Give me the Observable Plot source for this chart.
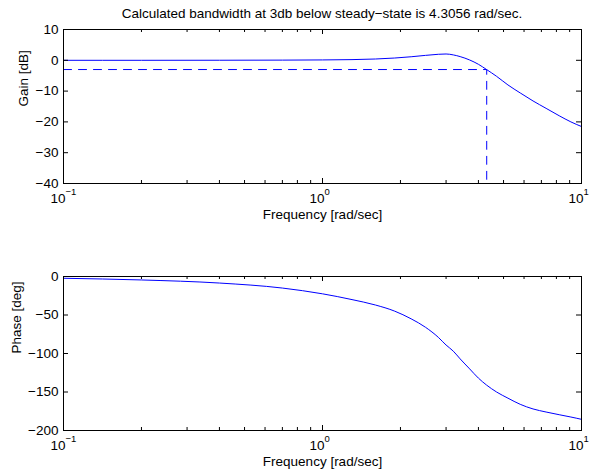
<!DOCTYPE html>
<html>
<head>
<meta charset="utf-8">
<script src="https://cdn.jsdelivr.net/npm/d3@7"></script>
<script src="https://cdn.jsdelivr.net/npm/@observablehq/plot@0.6"></script>
<style>
  html, body { margin: 0; padding: 0; background: #fff; }
  #fig { position: relative; width: 590px; height: 473px; background: #fff;
         font-family: "Liberation Sans", Arial, Helvetica, sans-serif; color: #000; }
  #title { position: absolute; z-index: 2; left: 63px; width: 518px; top: 6px; text-align: center;
           font-size: 13.5px; line-height: 16px; white-space: nowrap; }
  #top { position: absolute; z-index: 1; left: 0; top: 0; }
  #bottom { position: absolute; z-index: 1; left: 0; top: 240px; }
  svg { display: block; background: transparent; }
</style>
</head>
<body>
<div id="fig">
  <div id="title">Calculated bandwidth at 3db below steady−state is 4.3056 rad/sec.</div>
  <div id="top"></div>
  <div id="bottom"></div>
</div>
<script>
// ---- data ----
const freq = [0.1, 0.2, 0.4, 0.7, 1.0, 1.3, 1.6, 1.9, 2.2, 2.5, 2.8, 3.0, 3.2, 3.4, 3.7, 4.0, 4.3, 4.7, 5.2, 5.8, 6.5, 7.3, 8.2, 9.1, 10];
const gainDb = [0, 0, 0.02, 0.06, 0.12, 0.22, 0.42, 0.74, 1.15, 1.6, 1.95, 2.05, 1.75, 1.2, 0.1, -1.3, -3.0, -5.2, -8.0, -10.6, -13.2, -15.6, -18.0, -20.0, -21.5];
const phaseDeg = [-2.3, -4.5, -8.5, -15, -22.5, -30, -37, -45, -55, -66, -79, -89, -97, -107, -120, -132, -141, -150, -158, -166, -172, -176, -179.5, -182.5, -185.5];
const bandwidth = 4.3056;   // rad/sec
const cutoffDb = -3;        // 3 dB below steady state
const xDomain = [0.1, 10];
const gainDomain = [-40, 10];
const phaseDomain = [-200, 0];
const gainTicks = [10, 0, -10, -20, -30, -40];
const phaseTicks = [0, -50, -100, -150, -200];
const xMajorTicks = [0.1, 1, 10];
const xTickBase = ["10", "10", "10"];
const xTickExponents = ["−1", "0", "1"];
const xMinorTicks = [0.2, 0.3, 0.4, 0.5, 0.6, 0.7, 0.8, 0.9, 2, 3, 4, 5, 6, 7, 8, 9];
const xLabel = "Frequency [rad/sec]";
const gainLabel = "Gain [dB]";
const phaseLabel = "Phase [deg]";

const gainData = freq.map((w, i) => ({w, v: gainDb[i]}));
const phaseData = freq.map((w, i) => ({w, v: phaseDeg[i]}));
// dashed guide: along the -3 dB level to the bandwidth, then down to the axis
const guideData = [
  {w: xDomain[0], v: cutoffDb},
  {w: bandwidth, v: cutoffDb},
  {w: bandwidth, v: gainDomain[0]}
];

const W = 590, ML = 63, MR = 9;
const innerW = W - ML - MR;
const blue = "#0000ff";
const FS = 13.5;
const font = '"Liberation Sans", Arial, Helvetica, sans-serif';
const fmt = d => d < 0 ? "\u2212" + (-d) : String(d);

function boxMarks(yTicks, innerH) {
  return [
    Plot.tickY(yTicks, {y: d => d, insetRight: innerW - 5, stroke: "black", strokeWidth: 1}),
    Plot.tickY(yTicks, {y: d => d, insetLeft: innerW - 5, stroke: "black", strokeWidth: 1}),
    Plot.tickX(xMajorTicks, {x: d => d, insetTop: innerH - 5, stroke: "black", strokeWidth: 1}),
    Plot.tickX(xMajorTicks, {x: d => d, insetBottom: innerH - 5, stroke: "black", strokeWidth: 1}),
    Plot.tickX(xMinorTicks, {x: d => d, insetTop: innerH - 3, stroke: "black", strokeWidth: 1}),
    Plot.tickX(xMinorTicks, {x: d => d, insetBottom: innerH - 3, stroke: "black", strokeWidth: 1}),
    Plot.axisY({ticks: yTicks, tickSize: 0, tickPadding: 5, tickFormat: fmt, label: null, fontSize: FS}),
    Plot.text(xMajorTicks, {x: d => d, text: (d, i) => xTickBase[i], frameAnchor: "bottom", textAnchor: "end", dx: 2, dy: 15, lineAnchor: "middle", fontSize: FS}),
    Plot.text(xMajorTicks, {x: d => d, text: (d, i) => xTickExponents[i], frameAnchor: "bottom", textAnchor: "start", dx: 2, dy: 8, lineAnchor: "middle", fontSize: 9.5}),
    Plot.text([xLabel], {text: d => d, frameAnchor: "bottom", dy: 31, lineAnchor: "middle", fontSize: FS}),
    Plot.frame({stroke: "black", strokeWidth: 1})
  ];
}

const topH = 240, topMT = 29, topMB = 57;
const topPlot = Plot.plot({
  width: W, height: topH,
  marginLeft: ML, marginRight: MR, marginTop: topMT, marginBottom: topMB,
  style: {fontFamily: font, fontSize: FS + "px", background: "transparent", color: "black"},
  x: {type: "log", domain: xDomain, axis: null},
  y: {domain: gainDomain, axis: null},
  marks: [
    Plot.line(guideData, {x: "w", y: "v", stroke: blue, strokeWidth: 1, strokeDasharray: "8,7"}),
    Plot.line(gainData, {x: "w", y: "v", stroke: blue, strokeWidth: 1, curve: "monotone-x"}),
    ...boxMarks(gainTicks, topH - topMT - topMB),
    Plot.text([gainLabel], {text: d => d, frameAnchor: "left", rotate: -90, dx: -40, lineAnchor: "middle", fontSize: FS})
  ]
});
document.getElementById("top").appendChild(topPlot);

const botH = 233, botMT = 36, botMB = 43;
const bottomPlot = Plot.plot({
  width: W, height: botH,
  marginLeft: ML, marginRight: MR, marginTop: botMT, marginBottom: botMB,
  style: {fontFamily: font, fontSize: FS + "px", background: "transparent", color: "black"},
  x: {type: "log", domain: xDomain, axis: null},
  y: {domain: phaseDomain, axis: null},
  marks: [
    Plot.line(phaseData, {x: "w", y: "v", stroke: blue, strokeWidth: 1, curve: "monotone-x"}),
    ...boxMarks(phaseTicks, botH - botMT - botMB),
    Plot.text([phaseLabel], {text: d => d, frameAnchor: "left", rotate: -90, dx: -47, lineAnchor: "middle", fontSize: FS})
  ]
});
document.getElementById("bottom").appendChild(bottomPlot);
</script>
</body>
</html>
